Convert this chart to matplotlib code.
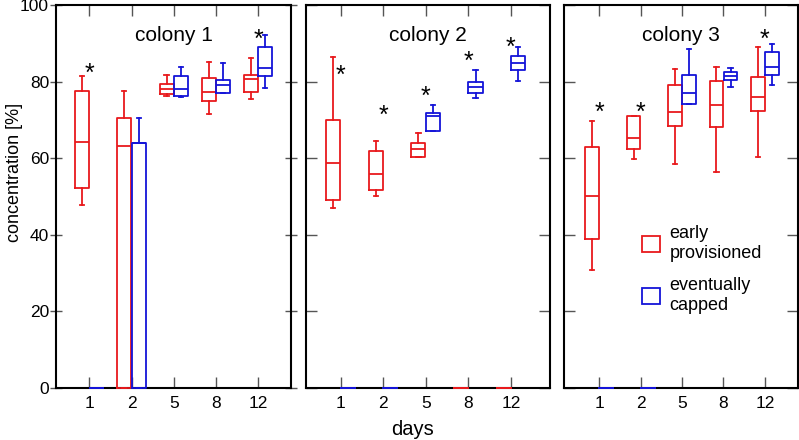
import matplotlib.pyplot as plt
from matplotlib.patches import Patch

plt.rcParams['font.family'] = ['Liberation Sans', 'DejaVu Sans']

# days sampled
days = ['1', '2', '5', '8', '12']

# box stats per day: (lower whisker, q1, median, q3, upper whisker)
c1_early = [(47.8, 52.2, 64.2, 77.5, 81.5), (0, 0, 63.3, 70.4, 77.6), (76.3, 76.8, 78.0, 79.3, 81.7),
            (71.5, 74.8, 77.2, 80.9, 85.1), (75.4, 77.4, 80.7, 81.7, 86.1)]
c1_capped = [(0, 0, 0, 0, 0), (0, 0, 63.9, 63.9, 70.4), (75.9, 76.3, 78.1, 81.5, 83.7),
             (77.0, 77.1, 79.1, 80.4, 84.8), (78.4, 81.5, 83.5, 89.1, 92.2)]
c2_early = [(47.0, 49.1, 58.7, 70.0, 86.3), (50.0, 51.6, 55.9, 61.9, 64.5), (60.3, 60.4, 62.4, 63.9, 66.7),
            (0, 0, 0, 0, 0), (0, 0, 0, 0, 0)]
c2_capped = [(0, 0, 0, 0, 0), (0, 0, 0, 0, 0), (67.1, 67.1, 71.0, 71.7, 73.8),
             (75.8, 77.0, 78.5, 79.8, 82.9), (80.2, 83.0, 84.9, 86.8, 88.9)]
c3_early = [(30.9, 38.9, 50.2, 62.8, 69.6), (59.9, 62.3, 65.2, 70.9, 71.1), (58.6, 68.5, 72.0, 79.1, 83.2),
            (56.3, 68.2, 73.8, 80.2, 83.9), (60.2, 72.2, 76.1, 81.1, 89.0)]
c3_capped = [(0, 0, 0, 0, 0), (0, 0, 0, 0, 0), (74.2, 74.2, 77.0, 81.7, 88.4),
             (78.5, 80.3, 81.4, 82.4, 83.6), (79.1, 81.7, 83.9, 87.6, 89.9)]

# significance stars: (day index, height)
c1_stars = [(0, 83.0), (4, 92.0)]
c2_stars = [(0, 82.6), (1, 72.2), (2, 77.0), (3, 86.3), (4, 90.0)]
c3_stars = [(0, 72.8), (1, 72.8), (4, 91.9)]

colonies = ['colony 1', 'colony 2', 'colony 3']
early_all = [c1_early, c2_early, c3_early]
capped_all = [c1_capped, c2_capped, c3_capped]
stars_all = [c1_stars, c2_stars, c3_stars]

red = '#e8191c'
blue = '#1414d8'

fig = plt.figure(figsize=(7.99, 4.40), dpi=100)
rects = [[0.0701, 0.1182, 0.2941, 0.8705],
         [0.3830, 0.1182, 0.3054, 0.8705],
         [0.7059, 0.1182, 0.2929, 0.8705]]
xlims = [(0.21, 5.78), (0.19, 5.92), (0.15, 5.80)]


def to_stats(rows):
    out = []
    for lo, q1, med, q3, hi in rows:
        out.append(dict(whislo=lo, q1=q1, med=med, q3=q3, whishi=hi, fliers=[]))
    return out


pos = list(range(1, len(days) + 1))
for i in range(3):
    ax = fig.add_axes(rects[i])
    for rows, shift, col in [(early_all[i], -0.17, red), (capped_all[i], 0.17, blue)]:
        lp = dict(color=col, linewidth=1.3, zorder=3, clip_on=False)
        ax.bxp(to_stats(rows), positions=[p + shift for p in pos], widths=0.33, capwidths=0.1,
               showfliers=False, boxprops=lp, medianprops=lp, whiskerprops=lp, capprops=lp,
               manage_ticks=False)
    for k, h in stars_all[i]:
        ax.annotate('*', (pos[k], h), xytext=(0, -3), textcoords='offset points',
                    fontsize=18, ha='center', va='center')
    ax.text(0.5, 0.92, colonies[i], transform=ax.transAxes, ha='center', va='center', fontsize=15)

    ax.set_xlim(xlims[i])
    ax.set_ylim(0, 100)
    ax.set_xticks(pos)
    ax.set_xticklabels(days)
    ax.set_yticks([0, 20, 40, 60, 80, 100])
    ax.tick_params(direction='in', length=8, width=1, color='#555555', top=True, right=True,
                   labelsize=12.5, pad=6)
    if i == 0:
        ax.tick_params(axis='y', which='both', left=True, direction='inout', length=8, pad=1)
        ax.tick_params(axis='y', right=True)
        ax.set_ylabel('concentration [%]', fontsize=13)
        ax.yaxis.set_label_coords(-0.14, 0.564)
    else:
        ax.set_yticklabels([])
    for s in ax.spines.values():
        s.set_linewidth(1.5)

    if i == 2:
        handles = [Patch(facecolor='none', edgecolor=red, linewidth=1.3),
                   Patch(facecolor='none', edgecolor=blue, linewidth=1.3)]
        ax.legend(handles, ['early\nprovisioned', 'eventually\ncapped'], loc='upper left',
                  bbox_to_anchor=(0.335, 0.425), frameon=False, fontsize=13, handlelength=1.0,
                  handleheight=1.0, handletextpad=0.5, labelspacing=0.85, borderpad=0,
                  borderaxespad=0)

fig.text(0.516, 0.012, 'days', ha='center', va='baseline', fontsize=14.5)

fig.savefig('out.png', dpi=100)
